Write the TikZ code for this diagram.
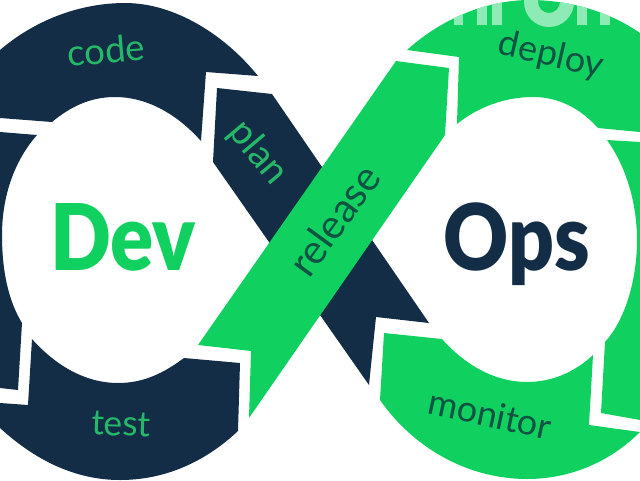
\documentclass[tikz,border=0pt]{standalone}
\usepackage{fontspec}
\setmainfont{Lato}
\newfontfamily\headfont[UprightFont=* Black]{Lato}
\definecolor{navy}{HTML}{122D45}
\definecolor{leaf}{HTML}{10D15F}
\definecolor{leafsoft}{HTML}{25B869}
\definecolor{inkgreen}{HTML}{0D5344}
\definecolor{pale}{HTML}{8FEBB5}
\newcommand{\stagesize}[1]{\fontsize{#1}{#1}\selectfont}
\tikzset{
  navyband/.style={fill=navy,draw=none},
  leafband/.style={fill=leaf,draw=none},
  stagedev/.style={text=leafsoft,inner sep=0pt},
  stageops/.style={text=inkgreen,inner sep=0pt},
  headword/.style={font=\headfont\fontsize{69}{69}\selectfont,inner sep=0pt,xscale=0.87}
}
\begin{document}
\begin{tikzpicture}[x=0.75pt,y=-0.75pt]
\useasboundingbox (0,0) rectangle (640,480);
\clip (0,0) rectangle (640,480);
% Left loop
\fill[navyband] (0,50) .. controls (35,20) and (80,3) .. (125,3)
  .. controls (175,3) and (225,35) .. (258,76) -- (206,72) -- (201,141)
  .. controls (175,112) and (145,97) .. (115,97)
  .. controls (90,97) and (70,107) .. (52,122) -- (0,118) -- cycle;
\fill[navyband] (0,132) -- (37,135) .. controls (15,160) and (2,195) .. (2,235)
  .. controls (2,270) and (8,300) .. (22,323) -- (18,390) -- (0,388) -- cycle;
\fill[navyband] (32,339) .. controls (55,365) and (85,383) .. (118,383)
  .. controls (145,383) and (165,372) .. (184,358) -- (240,363) -- (238,431)
  .. controls (205,462) and (165,480) .. (120,480)
  .. controls (75,480) and (35,460) .. (0,428) -- (0,403) -- (28,405) -- cycle;
% Crossing bands: navy runs underneath the green release band
\fill[navyband] (217,88) -- (272,94) -- (429,323) -- (376,317) -- (369,385) -- (213,162) -- cycle;
\fill[leafband] (198,345) -- (396,61) -- (449,68) -- (445,135) -- (249,418) -- (251,351) -- cycle;
% Right loop
\fill[leafband] (407,50) .. controls (440,20) and (485,0) .. (530,0)
  .. controls (570,0) and (610,12) .. (640,33) -- (640,132) -- (598,128)
  .. controls (580,108) and (558,97) .. (533,97)
  .. controls (505,97) and (478,107) .. (457,124) -- (459,57) -- cycle;
\fill[leafband] (607,140) -- (640,142) -- (640,420) -- (601,413) -- (605,342)
  .. controls (625,320) and (637,280) .. (637,240)
  .. controls (637,205) and (627,168) .. (607,140) -- cycle;
\fill[leafband] (384,333) -- (442,339) .. controls (465,365) and (495,382) .. (527,382)
  .. controls (552,382) and (575,372) .. (593,355) -- (589,425) -- (640,432)
  .. controls (610,462) and (570,479) .. (527,479)
  .. controls (470,479) and (415,450) .. (380,400) -- cycle;
% Faint marks across the top of the deploy band
\begin{scope}
  \clip (407,50) .. controls (440,20) and (485,0) .. (530,0)
    .. controls (570,0) and (610,12) .. (640,33) -- (640,60) -- (407,60) -- cycle;
  \fill[pale] (454,0) rectangle (463,25);
  \fill[pale] (477,0) rectangle (487,25);
  \fill[pale] (492,0) rectangle (502,25);
  \fill[pale,even odd rule] (549,2) circle[radius=25] (549,2) circle[radius=11];
  \fill[pale] (577,0) rectangle (587,25);
  \fill[pale] (600,0) rectangle (610,25);
\end{scope}
% Stage names
\node[stagedev,rotate=5,font=\stagesize{27.5}] (code) at (106,50) {code};
\node[stagedev,rotate=-50,font=\stagesize{28.5}] (plan) at (258,153) {plan};
\node[stagedev,rotate=-2,font=\stagesize{26.5}] (test) at (121,424) {test};
\node[stageops,rotate=54,font=\stagesize{30.5}] (release) at (334,220) {release};
\node[stageops,rotate=-13,font=\stagesize{27}] (deploy) at (551,56) {deploy};
\node[stageops,rotate=-12,font=\stagesize{27}] (monitor) at (490,414) {monitor};
% Headwords
\node[headword,text=leaf] (dev) at (123,237) {Dev};
\node[headword,text=navy] (ops) at (517,244) {Ops};
\end{tikzpicture}
\end{document}
